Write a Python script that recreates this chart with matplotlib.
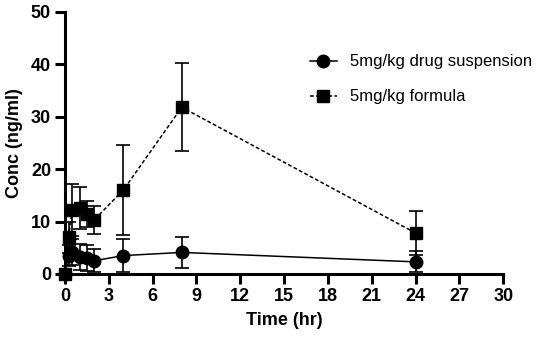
import matplotlib.pyplot as plt
import numpy as np

plt.rcParams['font.family'] = ['Liberation Sans', 'DejaVu Sans']

time = [0, 0.25, 0.5, 1, 1.5, 2, 4, 8, 24]

susp_mean = [0, 3.5, 4.2, 3.3, 3.0, 2.5, 3.5, 4.1, 2.3]
susp_sd = [0, 2.0, 2.5, 2.5, 2.5, 2.2, 3.2, 2.9, 2.0]

form_mean = [0, 7.0, 12.2, 12.5, 11.5, 10.3, 16.0, 31.8, 7.8]
form_sd = [0, 3.0, 5.0, 4.0, 2.5, 2.7, 8.6, 8.4, 4.2]

labels = ['5mg/kg drug suspension', '5mg/kg formula']

fig = plt.figure(figsize=(5.5, 3.39), dpi=100)
ax = fig.add_axes([0.118, 0.192, 0.797, 0.773])

ax.errorbar(time, susp_mean, yerr=susp_sd, fmt='-o', color='black',
            ms=9, lw=1.1, elinewidth=1.2, capsize=5, capthick=1.2,
            clip_on=False, zorder=3, label=labels[0])
ax.errorbar(time, form_mean, yerr=form_sd, fmt='--s', color='black',
            ms=8.5, lw=1.1, elinewidth=1.2, capsize=5, capthick=1.2,
            dashes=(2.5, 1.5), clip_on=False, zorder=3, label=labels[1])

ax.set_xlim(0, 30)
ax.set_ylim(0, 50)
ax.set_xticks(np.arange(0, 31, 3))
ax.set_yticks(np.arange(0, 51, 10))

for s in ['top', 'right']:
    ax.spines[s].set_visible(False)
for s in ['left', 'bottom']:
    ax.spines[s].set_linewidth(2.2)
ax.tick_params(width=2.2, length=7, labelsize=13, pad=3)
for lbl in ax.get_xticklabels() + ax.get_yticklabels():
    lbl.set_fontweight('bold')

ax.set_xlabel('Time (hr)', fontsize=13, fontweight='bold', labelpad=5)
ax.set_ylabel('Conc (ng/ml)', fontsize=13, fontweight='bold', labelpad=6)

handles, _ = ax.get_legend_handles_labels()
handles = [h[0] for h in handles]
ax.legend(handles, labels, loc='upper left', bbox_to_anchor=(0.525, 0.895),
          frameon=False, fontsize=12, handlelength=1.6, labelspacing=1.2,
          handletextpad=0.8)

fig.savefig('out.png', dpi=100)
